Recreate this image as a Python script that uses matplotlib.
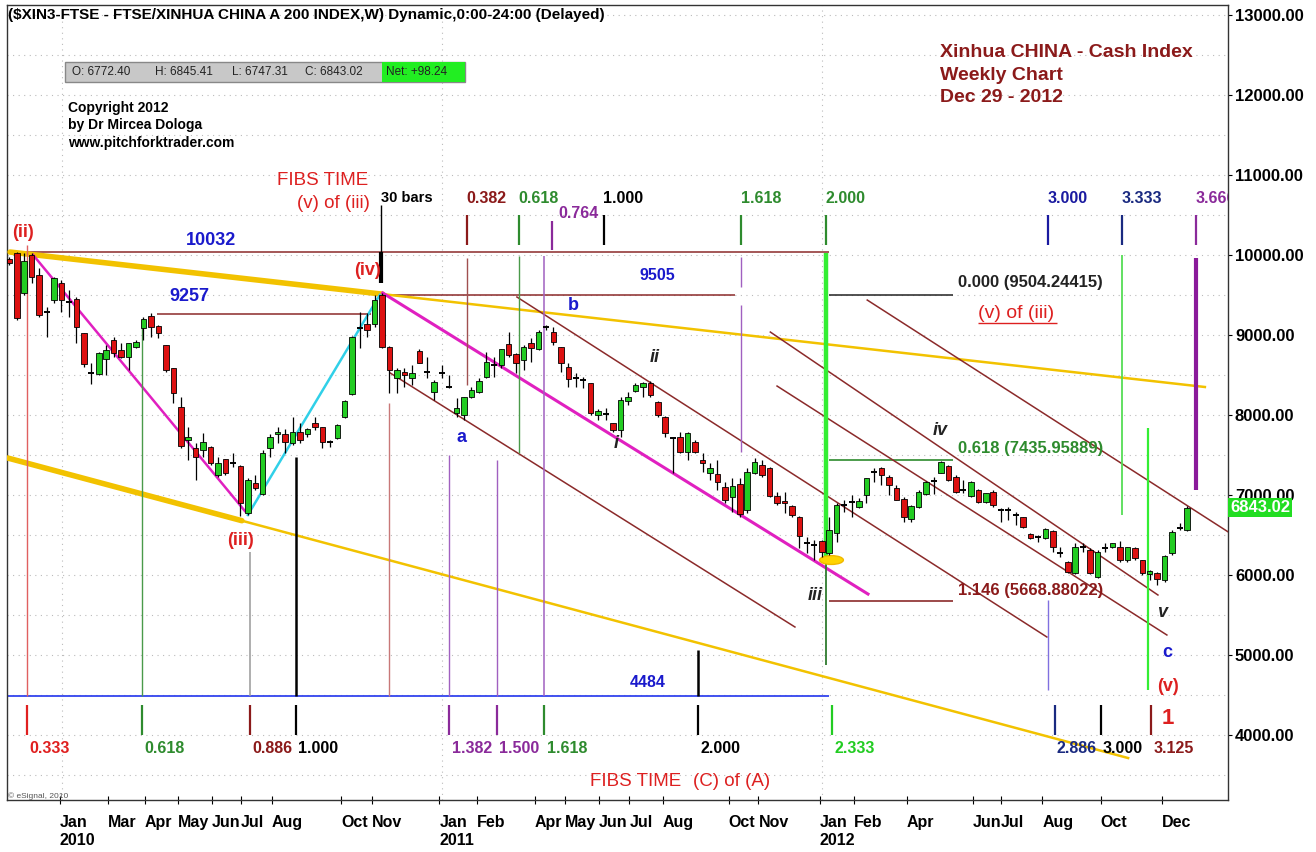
import matplotlib
matplotlib.use("Agg")
import matplotlib.pyplot as plt
from matplotlib.patches import Ellipse, Rectangle
from matplotlib.transforms import blended_transform_factory
import numpy as np

plt.rcParams['font.family'] = ['Liberation Sans', 'DejaVu Sans']

# weekly bars, Nov 2009 .. Dec 2012
opens = [9946, 10021, 9529, 10000, 9750, 9290, 9437, 9646, 9417, 9445,
         9020, 8520, 8512, 8695, 8937, 8812, 8729, 8846, 9083, 9237,
         9116, 8875, 8583, 8104, 7687, 7583, 7562, 7604, 7250, 7445,
         7404, 7362, 6779, 7154, 7012, 7583, 7762, 7762, 7645, 7791,
         7762, 7896, 7845, 7666, 7708, 7979, 8258, 9087, 9137, 9133,
         9500, 8854, 8458, 8541, 8458, 8804, 8541, 8291, 8520, 8354,
         8021, 8000, 8229, 8291, 8470, 8625, 8625, 8883, 8762, 8687,
         8904, 8825, 9095, 9041, 8845, 8604, 8458, 8437, 8395, 8000,
         8012, 7895, 7812, 8179, 8304, 8345, 8404, 8166, 7979, 7708,
         7720, 7541, 7666, 7437, 7279, 7262, 7095, 6979, 7137, 6812,
         7279, 7375, 7333, 6987, 6929, 6862, 6729, 6395, 6375, 6429,
         6279, 6520, 6875, 6916, 6845, 7000, 7291, 7333, 7229, 7083,
         6950, 6696, 6845, 7012, 7179, 7279, 7362, 7229, 7062, 6987,
         7062, 6916, 7041, 6812, 6812, 6750, 6720, 6512, 6470, 6458,
         6554, 6270, 6166, 6029, 6354, 6312, 5979, 6333, 6345, 6354,
         6187, 6333, 6187, 6012, 6029, 5937, 6270, 6583, 6562]
highs = [9979, 10032, 10021, 10021, 9833, 9354, 9729, 9687, 9562, 9479,
         9020, 8646, 8790, 8875, 8979, 8896, 8900, 8937, 9229, 9279,
         9125, 8880, 8590, 8229, 7854, 7646, 7770, 7610, 7479, 7450,
         7521, 7375, 7208, 7250, 7562, 7762, 7845, 7820, 7979, 7896,
         7833, 7979, 7850, 7687, 7887, 8187, 8987, 9292, 9270, 9500,
         9521, 8860, 8583, 8583, 8625, 8820, 8729, 8437, 8625, 8500,
         8208, 8230, 8354, 8458, 8791, 8729, 8825, 9041, 8770, 8875,
         8958, 9062, 9125, 9104, 8854, 8645, 8520, 8479, 8400, 8070,
         8083, 7900, 8229, 8291, 8404, 8416, 8429, 8170, 7985, 7720,
         7791, 7791, 7687, 7520, 7395, 7437, 7166, 7208, 7208, 7333,
         7458, 7437, 7354, 7041, 7041, 6875, 6735, 6479, 6437, 6437,
         6729, 6896, 6937, 7000, 6958, 7210, 7333, 7354, 7250, 7125,
         6979, 6875, 7062, 7175, 7220, 7429, 7375, 7250, 7187, 7179,
         7070, 7029, 7062, 6833, 6845, 6792, 6729, 6520, 6500, 6583,
         6562, 6354, 6179, 6395, 6395, 6333, 6312, 6395, 6404, 6429,
         6354, 6354, 6187, 6062, 6041, 6250, 6562, 6645, 6862]
lows = [9875, 9187, 9500, 9646, 9229, 8979, 9396, 9292, 9229, 8896,
        8604, 8387, 8500, 8500, 8729, 8708, 8562, 8833, 8937, 8979,
        8958, 8542, 8146, 7583, 7437, 7187, 7479, 7375, 7229, 7250,
        7345, 6737, 6750, 7062, 7000, 7479, 7646, 7530, 7625, 7646,
        7729, 7812, 7583, 7604, 7695, 7958, 8250, 8833, 8979, 9104,
        8833, 8270, 8270, 8354, 8375, 8645, 8458, 8187, 8458, 8333,
        7979, 7937, 8208, 8279, 8458, 8479, 8583, 8729, 8520, 8562,
        8666, 8812, 9062, 8875, 8541, 8354, 8354, 8333, 8000, 7937,
        7937, 7791, 7729, 8125, 8291, 8229, 8229, 7979, 7729, 7270,
        7520, 7437, 7520, 7291, 7187, 7062, 6895, 6791, 6729, 6770,
        7262, 7229, 6979, 6875, 6770, 6729, 6333, 6270, 6187, 6221,
        6250, 6416, 6792, 6729, 6833, 6896, 7166, 7125, 7000, 6937,
        6666, 6666, 6833, 7000, 7012, 7270, 7179, 7020, 7020, 6979,
        6896, 6904, 6845, 6666, 6687, 6625, 6583, 6445, 6416, 6445,
        6291, 6229, 6020, 6012, 6291, 6012, 5958, 6291, 6333, 6166,
        6166, 6187, 6000, 5937, 5875, 5916, 6250, 6562, 6554]
closes = [9896, 9208, 9929, 9729, 9250, 9290, 9708, 9437, 9417, 9104,
          8637, 8520, 8779, 8812, 8779, 8729, 8895, 8916, 9196, 9104,
          9029, 8562, 8270, 7612, 7720, 7470, 7666, 7395, 7395, 7270,
          7404, 6895, 7187, 7083, 7529, 7729, 7791, 7666, 7791, 7687,
          7825, 7854, 7666, 7666, 7875, 8179, 8970, 9087, 9062, 9437,
          8845, 8562, 8562, 8500, 8520, 8654, 8541, 8416, 8520, 8354,
          8083, 8229, 8312, 8429, 8666, 8625, 8820, 8750, 8654, 8845,
          8833, 9041, 9095, 8916, 8654, 8445, 8458, 8437, 8020, 8050,
          8012, 7812, 8187, 8229, 8375, 8395, 8250, 8000, 7770, 7708,
          7541, 7770, 7541, 7395, 7333, 7166, 6937, 7112, 6762, 7291,
          7416, 7250, 6987, 6895, 6895, 6750, 6487, 6395, 6375, 6291,
          6562, 6875, 6875, 6916, 6925, 7208, 7291, 7250, 7125, 6937,
          6720, 6862, 7041, 7158, 7179, 7416, 7187, 7041, 7062, 7158,
          6916, 7021, 6875, 6812, 6812, 6750, 6604, 6458, 6470, 6570,
          6345, 6270, 6041, 6345, 6354, 6029, 6291, 6333, 6395, 6187,
          6345, 6208, 6020, 6050, 5945, 6237, 6541, 6583, 6843]

month_labels = ['Jan\n2010', 'Mar', 'Apr', 'May', 'Jun', 'Jul', 'Aug', 'Oct', 'Nov',
                'Jan\n2011', 'Feb', 'Apr', 'May', 'Jun', 'Jul', 'Aug', 'Oct', 'Nov',
                'Jan\n2012', 'Feb', 'Apr', 'Jun', 'Jul', 'Aug', 'Oct', 'Dec']
month_bars = [7.1, 13.5, 18.5, 22.9, 27.5, 31.4, 35.5, 44.8, 48.9,
              58.0, 63.0, 70.8, 74.9, 79.4, 83.5, 88.0, 96.8, 100.8,
              109.0, 113.6, 120.7, 129.6, 133.3, 138.9, 146.7, 154.9]
year_bars = [7.1, 58.0, 109.0]

# fibonacci time ratios
top_fibs = [0.382, 0.618, 0.764, 1.000, 1.618, 2.000, 3.000, 3.333, 3.666]
top_fib_txt = ['0.382', '0.618', '0.764', '1.000', '1.618', '2.000', '3.000', '3.333', '3.666']
top_fib_col = ['#8b1a1a', '#2e8b2e', '#8a2a9a', 'black', '#2e8b2e', '#2e8b2e', '#1a1aa0', '#1a2a80', '#8a2a9a']
bot_fibs = [0.333, 0.618, 0.886, 1.000, 1.382, 1.500, 1.618, 2.000, 2.333, 2.886, 3.000, 3.125]
bot_fib_txt = ['0.333', '0.618', '0.886', '1.000', '1.382', '1.500', '1.618', '2.000', '2.333', '2.886', '3.000', '3.125']
bot_fib_col = ['#e02020', '#2e8b2e', '#8b1a1a', 'black', '#8a2a9a', '#8a2a9a', '#2e8b2e', 'black', '#22cc22', '#1a2a80', 'black', '#8b1a1a']

fig = plt.figure(figsize=(13.16, 8.52), dpi=100)
ax = fig.add_axes([7/1316, 1-800/852, 1221/1316, 795/852])
ax.set_xlim(-0.31, 163.5)
ax.set_ylim(3187.5, 13125)

# grid
for p in range(3500, 13001, 500):
    ax.axhline(p, color='#bbbbbb', lw=0.8, ls=(0, (1, 4)), zorder=0)
for b in year_bars:
    ax.axvline(b, color='#bbbbbb', lw=0.8, ls=(0, (1, 4)), zorder=0)

DR = '#8b2a2a'
# horizontal levels
ax.hlines(10032, 1, 110, color=DR, lw=1.1, zorder=2)
ax.hlines(9257, 19.8, 48.5, color=DR, lw=1.1, zorder=2)
ax.hlines(9505, 50, 97.4, color=DR, lw=1.1, zorder=2)
ax.hlines(4484, -0.3, 110, color='#3344ee', lw=1.3, zorder=2)
ax.hlines(9504.24, 110, 126.6, color='#333333', lw=1.2, zorder=2)
ax.hlines(7435.96, 110, 126.6, color='#2e8b2e', lw=1.2, zorder=2)
ax.hlines(5668.88, 110, 126.6, color=DR, lw=1.2, zorder=2)

# trend lines
ax.plot([0.1, 160.4], [10037, 8350], color='#f2c200', lw=1.8, zorder=3)
ax.plot([0.1, 50.1], [10037, 9510], color='#f2c200', lw=4.0, zorder=3, solid_capstyle='round')
ax.plot([-0.2, 150.1], [7462, 3712], color='#f2c200', lw=1.8, zorder=3)
ax.plot([-0.2, 31.2], [7462, 6679], color='#f2c200', lw=4.0, zorder=3, solid_capstyle='round')
ax.plot([3.2, 31.6], [10000, 6800], color='#e020c0', lw=1.8, zorder=3)
ax.plot([32.0, 49.7], [6750, 9500], color='#30d0e8', lw=1.8, zorder=3)
ax.plot([50.1, 115.2], [9525, 5762], color='#e020c0', lw=2.2, zorder=3)
for xs, ys in [([51.1, 105.4], [8525, 5350]), ([68.1, 139.2], [9475, 5225]),
               ([102.1, 154.1], [9037, 5750]), ([103.0, 155.3], [8362, 5250]),
               ([115.1, 164.5], [9437, 6480])]:
    ax.plot(xs, ys, color=DR, lw=1.1, zorder=3)

ax.add_patch(Ellipse((110.3, 6187), 3.2, 110, facecolor='#ffd400', edgecolor='#f0b800', lw=1, zorder=4))

# fib time lines
def bot_bar(r):
    return -15.6 + 54.0 * r

def top_bar(r):
    return 50.0 + 29.8 * r

for r, t, col in zip(top_fibs, top_fib_txt, top_fib_col):
    b = top_bar(r)
    if t == '0.764':
        ax.vlines(b, 10062, 10425, color=col, lw=1.6, zorder=3)
        ax.text(b + 0.9, 10525, t, color=col, fontsize=11.5, fontweight='bold', va='center', ha='left', clip_on=True)
    else:
        ax.vlines(b, 10125, 10500, color=col, lw=1.6, zorder=3)
        ax.text(b - 0.1, 10712, t, color=col, fontsize=11.5, fontweight='bold', va='center', ha='left', clip_on=True)

for r, t, col in zip(bot_fibs, bot_fib_txt, bot_fib_col):
    b = bot_bar(r)
    ax.vlines(b, 4000, 4375, color=col, lw=1.6, zorder=3)
    ax.text(b + 0.3, 3837, t, color=col, fontsize=11.5, fontweight='bold', va='center', ha='left')

segs = [
    (bot_bar(0.333), 4484, 10125, '#e06060', 1.0),
    (bot_bar(0.618), 4484, 9120, '#4a9a4a', 1.0),
    (bot_bar(0.886), 4484, 6290, '#999999', 1.1),
    (bot_bar(1.000), 4484, 7475, 'black', 1.8),
    (50.9, 4484, 8150, '#c87878', 1.0),
    (bot_bar(1.382), 4484, 7500, '#a060c0', 1.0),
    (bot_bar(1.500), 4484, 7437, '#a060c0', 1.0),
    (bot_bar(1.618), 4484, 9990, '#a060c0', 1.1),
    (bot_bar(2.000), 4484, 5062, 'black', 1.8),
    (top_bar(0.382), 8375, 9960, '#a05050', 1.0),
    (top_bar(0.618), 7525, 9990, '#4a9a4a', 1.0),
    (top_bar(1.618), 9600, 9975, '#a060c0', 1.0),
    (top_bar(1.618), 7537, 9375, '#a060c0', 1.0),
    (top_bar(2.000), 4875, 6187, '#2e7b2e', 1.3),
    (top_bar(2.000), 6187, 10025, '#33ee33', 3.2),
    (top_bar(3.000), 4562, 5687, '#8070e0', 1.0),
    (top_bar(3.333), 6750, 10000, '#55dd55', 1.3),
    (152.8, 4562, 7837, '#33ee33', 1.6),
    (top_bar(3.666), 7062, 9962, '#8a1a9a', 3.0),
    (49.9, 10037, 10625, 'black', 1.0),
    (49.9, 9650, 10037, 'black', 3.0),
]
for b, y0, y1, col, w in segs:
    ax.vlines(b, y0, y1, color=col, lw=w, zorder=3)

# candles
x = np.arange(len(closes))
o = np.array(opens, float)
h = np.array(highs, float)
l = np.array(lows, float)
c = np.array(closes, float)
up = c > o
dn = c < o
fl = c == o
ax.vlines(x, l, h, color='black', lw=0.9, zorder=5)
ax.bar(x[up], c[up] - o[up], bottom=o[up], width=0.74, color='#22cc22', edgecolor='black', lw=0.6, zorder=6)
ax.bar(x[dn], o[dn] - c[dn], bottom=c[dn], width=0.74, color='#dd1111', edgecolor='black', lw=0.6, zorder=6)
ax.hlines(c[fl], x[fl] - 0.4, x[fl] + 0.4, color='black', lw=1.4, zorder=6)

# wave labels
RED = '#dd2020'
BLUE = '#1a1acc'
lab = dict(fontsize=13, fontweight='bold', ha='center', va='center', zorder=7)
ax.text(1.8, 10287, '(ii)', color=RED, **lab)
ax.text(31.0, 6437, '(iii)', color=RED, **lab)
ax.text(48.0, 9812, '(iv)', color=RED, **lab)
ax.text(155.4, 4612, '(v)', color=RED, **lab)
ax.text(155.4, 4212, '1', color=RED, fontsize=16, fontweight='bold', ha='center', va='center')
ax.text(27.0, 10187, '10032', color=BLUE, **lab)
ax.text(24.2, 9487, '9257', color=BLUE, **lab)
ax.text(87.0, 9750, '9505', color=BLUE, fontsize=11.5, fontweight='bold', ha='center', va='center')
ax.text(85.6, 4662, '4484', color=BLUE, fontsize=11.5, fontweight='bold', ha='center', va='center')
ax.text(60.7, 7725, 'a', color=BLUE, **lab)
ax.text(75.6, 9375, 'b', color=BLUE, **lab)
ax.text(155.4, 5037, 'c', color=BLUE, **lab)
it = dict(fontsize=13, fontweight='bold', fontstyle='italic', ha='center', va='center', color='#222222', zorder=7)
ax.text(81.4, 7650, 'i', **it)
ax.text(86.6, 8725, 'ii', **it)
ax.text(108.1, 5750, 'iii', **it)
ax.text(124.9, 7812, 'iv', **it)
ax.text(154.6, 5537, 'v', **it)

ax.text(42.1, 10937, 'FIBS TIME', color=RED, fontsize=13.5, ha='center', va='center')
ax.text(48.4, 10650, '(v) of (iii)', color=RED, fontsize=13.5, ha='right', va='center')
ax.text(49.8, 10712, '30 bars', color='black', fontsize=10.5, fontweight='bold', ha='left', va='center')
ax.text(84.0, 3425, 'FIBS TIME', color=RED, fontsize=13.5, ha='center', va='center')
ax.text(96.9, 3425, '(C) of (A)', color=RED, fontsize=13.5, ha='center', va='center')

ax.text(127.3, 9650, '0.000 (9504.24415)', color='#222222', fontsize=12, fontweight='bold', ha='left', va='center')
ax.text(130.0, 9275, '(v) of (iii)', color=RED, fontsize=14, ha='left', va='center')
ax.hlines(9150, 130.0, 140.6, color=RED, lw=1.0)
ax.text(127.3, 7575, '0.618 (7435.95889)', color='#2e8b2e', fontsize=12, fontweight='bold', ha='left', va='center')
ax.text(127.3, 5812, '1.146 (5668.88022)', color='#8b1a1a', fontsize=12, fontweight='bold', ha='left', va='center')

ax.text(124.9, 12640, 'Xinhua CHINA - Cash Index\nWeekly Chart\nDec 29 - 2012', color='#8b1a1a',
        fontsize=14, fontweight='bold', ha='left', va='top', linespacing=1.45)

# axes styling
ax.yaxis.tick_right()
ax.set_yticks(range(4000, 13001, 1000))
ax.set_yticklabels(['%.2f' % v for v in range(4000, 13001, 1000)], fontsize=12, fontweight='bold')
ax.set_xticks([b - 0.3 for b in month_bars])
ax.set_xticklabels(month_labels, fontsize=11.5, fontweight='bold', ha='left', linespacing=1.2)
ax.tick_params(axis='x', direction='inout', length=6, pad=8)
ax.tick_params(axis='y', direction='out', length=3, pad=2)
for s in ax.spines.values():
    s.set_color('#333333')
    s.set_linewidth(1.0)

tr = blended_transform_factory(ax.transAxes, ax.transData)
ax.text(1.002, 6843, '6843.02', transform=tr, color='white', fontsize=12, fontweight='bold', zorder=10,
        ha='left', va='center', bbox=dict(boxstyle='square,pad=0.12', facecolor='#22dd22', edgecolor='none'))

# header texts
fig.text(8/1316, 1 - 15/852, '($XIN3-FTSE - FTSE/XINHUA CHINA A 200 INDEX,W) Dynamic,0:00-24:00 (Delayed)',
         fontsize=11, fontweight='bold', va='center', ha='left')
fig.add_artist(Rectangle((65/1316, 1 - 82/852), 400/1316, 20/852, transform=fig.transFigure,
                         facecolor='#c8c8c8', edgecolor='#888888', lw=1))
fig.add_artist(Rectangle((382/1316, 1 - 82/852), 83/1316, 20/852, transform=fig.transFigure,
                         facecolor='#22ee22', edgecolor='none'))
for px, t in [(72, 'O: 6772.40'), (155, 'H: 6845.41'), (232, 'L: 6747.31'), (305, 'C: 6843.02'), (386, 'Net: +98.24')]:
    fig.text(px/1316, 1 - 72/852, t, fontsize=8.5, color='#222222', va='center', ha='left')
fig.text(68/1316, 1 - 101/852, 'Copyright 2012\nby Dr Mircea Dologa\nwww.pitchforktrader.com',
         fontsize=10, fontweight='bold', va='top', ha='left', linespacing=1.3)
fig.text(8/1316, 1 - 800/852, '\u00a9 eSignal, 2010', fontsize=6, color='#555555', va='bottom', ha='left')

fig.savefig('out.png', dpi=100, facecolor='white')
